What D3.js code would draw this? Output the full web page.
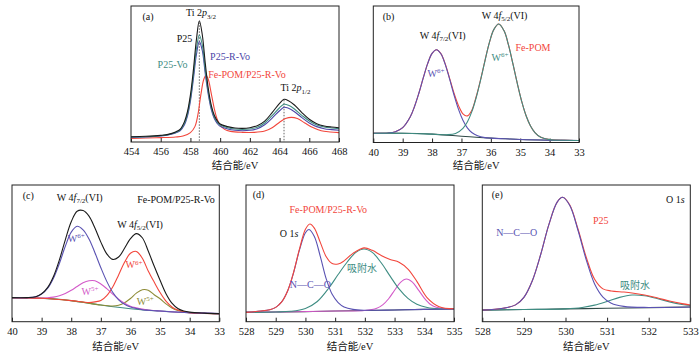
<!DOCTYPE html>
<html><head><meta charset="utf-8">
<script src="https://cdn.jsdelivr.net/npm/d3@7"></script>
<style>
body{margin:0;background:#fff;}
svg text{font-family:"Liberation Serif","Times New Roman","Noto Sans CJK SC",serif;}
</style></head><body>
<svg id="chart" width="700" height="355"></svg>
<script>
// ---------------- DATA (binding energy eV, intensity a.u. 0-100) ----------------
// Panel (a) Ti 2p
const ticksA = [454,456,458,460,462,464,466,468];
const aP25 = [[454,3.9],[455,4.2],[456,4.9],[456.5,5.6],[457,7.4],[457.3,9.3],[457.6,15],[457.8,22.3],[458,34.6],[458.2,53],[458.4,75],[458.6,89.2],[458.8,78.7],[459,57.8],[459.2,39.5],[459.4,27.2],[459.6,19.9],[459.8,15.7],[460,13.2],[460.5,11.3],[461,10.3],[461.5,10],[462,10.5],[462.5,12],[463,15.4],[463.5,21.6],[464,28.4],[464.3,31.4],[464.6,30.4],[465,27.2],[465.5,21.6],[466,16.7],[466.5,13.5],[467,11.8],[467.5,11],[468,10.5]];
const aP25Vo = [[454,3.7],[455,3.9],[456,4.7],[456.5,5.4],[457,6.9],[457.3,8.8],[457.6,13.7],[457.8,20.6],[458,32.1],[458.2,49.3],[458.4,68.1],[458.6,78.7],[458.8,71.3],[459,52.9],[459.2,37],[459.4,25.5],[459.6,18.6],[459.8,14.7],[460,12.5],[460.5,10.5],[461,9.6],[461.5,9.3],[462,9.6],[462.5,10.8],[463,14],[463.5,19.4],[464,25.2],[464.3,27.7],[464.6,27],[465,24.3],[465.5,19.6],[466,15.4],[466.5,12.5],[467,11],[467.5,10.3],[468,9.8]];
const aP25RVo = [[454,3.4],[455,3.7],[456,4.4],[456.5,5.1],[457,6.6],[457.3,8.3],[457.6,12.7],[457.8,19.1],[458,30.1],[458.2,46.3],[458.4,64],[458.6,73.8],[458.8,67.2],[459,50],[459.2,35],[459.4,24],[459.6,17.4],[459.8,13.7],[460,11.5],[460.5,9.6],[461,8.6],[461.5,8.3],[462,8.6],[462.5,9.8],[463,12.7],[463.5,17.6],[464,23],[464.3,25.5],[464.6,24.8],[465,22.3],[465.5,17.9],[466,14],[466.5,11.3],[467,9.8],[467.5,9.1],[468,8.6]];
const aFePOM = [[454,2.7],[455,2.9],[456,3.2],[457,3.7],[457.5,4.4],[458,6.9],[458.3,11.3],[458.5,19.9],[458.7,34.6],[458.9,46.1],[459.05,49],[459.2,46.1],[459.4,35.8],[459.6,24.8],[459.8,16.7],[460,12.3],[460.3,9.3],[460.7,7.8],[461.5,7.1],[462.3,7.1],[463,8.1],[463.5,10.5],[464,14.5],[464.4,17.2],[464.8,18.1],[465.2,17.2],[465.7,14],[466.2,10.8],[466.8,8.3],[467.4,7.4],[468,6.9]];
const aRefLines = [[458.6,88],[464.3,31]];

// Panel (b) W 4f, Fe-POM
const ticksB = [40,39,38,37,36,35,34,33];
const bBg = [[40,6.8],[39,6.8],[38.5,6.6],[38,6.1],[37.5,5.4],[37,4.6],[36.5,3.9],[36,3.2],[35.5,2.7],[35,2.2],[34,1.7],[33,1.5]];
const bW72 = [[40,6.8],[39.5,7.0],[39.25,7.9],[39,10.9],[38.75,18.5],[38.6,26.2],[38.45,36.1],[38.3,47.3],[38.15,57.8],[38,65.3],[37.85,68],[37.7,65],[37.55,57.1],[37.4,46.2],[37.25,34.6],[37.1,24.3],[36.95,16.3],[36.8,10.7],[36.65,7.3],[36.45,4.9],[36.2,3.6],[36,3.2],[35.5,2.7],[35,2.2],[34,1.7],[33,1.5]];
const bW52 = [[40,6.8],[39,6.8],[38,6.1],[37.5,5.7],[37.2,6.6],[36.95,10.4],[36.8,15],[36.65,22.4],[36.5,32.8],[36.35,45.7],[36.2,59.8],[36.05,73.1],[35.9,82.7],[35.73,86.8],[35.55,81.8],[35.4,71.5],[35.25,57.7],[35.1,43.3],[34.95,30.1],[34.8,19.6],[34.65,12.1],[34.5,7.3],[34.3,3.8],[34,2.1],[33.5,1.6],[33,1.5]];
const bFePOM = [[40,6.8],[39.5,7.0],[39.25,7.9],[39,10.9],[38.75,18.5],[38.6,26.2],[38.45,36.1],[38.3,47.3],[38.15,57.8],[38,65.3],[37.85,68],[37.7,65.1],[37.55,57.4],[37.4,46.8],[37.25,35.9],[37.1,27],[36.95,21],[36.8,19.5],[36.65,23.5],[36.5,33.5],[36.35,46],[36.2,60],[36.05,73.1],[35.9,82.7],[35.73,86.8],[35.55,81.8],[35.4,71.5],[35.25,57.7],[35.1,43.3],[34.95,30.1],[34.8,19.6],[34.65,12.1],[34.5,7.3],[34.3,3.8],[34,2.1],[33.5,1.6],[33,1.5]];

// Panel (c) W 4f, Fe-POM/P25-R-Vo
const ticksC = [40,39,38,37,36,35,34,33];
const cBg = [[40,17.6],[39.5,17.35],[39,17.1],[38.5,16.6],[38,15.4],[37.5,13.9],[37,12.2],[36.5,10.7],[36,9.5],[35.5,8.5],[35,7.8],[34.5,7.1],[34,6.6],[33.5,6.2],[33,5.9]];
const cW6a = [[40,17.6],[39.5,17.55],[39.2,18.2],[39,20.2],[38.8,24.3],[38.6,31.8],[38.4,42.6],[38.2,55.2],[38,65.5],[37.8,69.8],[37.6,67.2],[37.4,60.5],[37.2,50.5],[37,39.5],[36.8,29.5],[36.6,21.5],[36.4,16],[36.2,12.8],[36,10.8],[35.8,9.6],[35.6,8.8],[35.4,8.4],[35,7.8],[34.5,7.1],[34,6.6],[33,5.9]];
const cW5a = [[40,17.6],[39,17.3],[38.8,17.5],[38.6,18],[38.4,19],[38.2,20.7],[38,23],[37.8,25.8],[37.6,28.5],[37.4,29.9],[37.2,29.9],[37,27.6],[36.8,24.2],[36.6,20.2],[36.4,16.5],[36.2,13.5],[36,11.3],[35.8,10.1],[35.6,9.2],[35.4,8.6],[35,7.8],[34.5,7.1],[34,6.6],[33,5.9]];
const cW6b = [[40,17.6],[39,17.1],[38,15.4],[37.6,14.4],[37.4,14],[37.2,14.5],[37,15.5],[36.8,19.1],[36.6,25.4],[36.4,34.2],[36.2,43.5],[36,50.1],[35.8,51.4],[35.6,46.4],[35.4,37.1],[35.2,29],[35,21.3],[34.8,15],[34.6,10.8],[34.4,8.5],[34.2,7.4],[34,6.6],[33,5.9]];
const cW5b = [[40,17.6],[39,17.1],[38,15.4],[37,12.2],[36.6,11.5],[36.4,12.1],[36.2,13.9],[36,17],[35.8,20.9],[35.6,23.4],[35.4,23],[35.2,19.7],[35,16.8],[34.8,13],[34.6,10.1],[34.4,8.2],[34.2,7.2],[34,6.6],[33,5.9]];
const cEnv = [[40,17.6],[39.5,17.6],[39.2,18.2],[39,20.4],[38.8,24.9],[38.6,33.1],[38.4,45.2],[38.2,59.9],[38,73.1],[37.8,80.8],[37.6,81.3],[37.4,77.2],[37.2,68.5],[37,58.2],[36.8,49.6],[36.6,45.6],[36.4,47.3],[36.2,53.7],[36,60.7],[35.8,64.4],[35.6,61.4],[35.4,51.7],[35.2,40.7],[35,30.3],[34.8,20.5],[34.6,13.6],[34.4,9.7],[34.2,7.8],[34,7],[33.5,6.3],[33,5.9]];

// Panel (d) O 1s, Fe-POM/P25-R-Vo
const ticksD = [528,529,530,531,532,533,534,535];
const dBg = [[528,6.8],[529,7.1],[530,7.4],[531,7.8],[532,8.2],[533,8.6],[534,9.0],[535,9.3]];
const dNCO = [[528,6.8],[528.5,7.8],[528.8,8.8],[529,10.5],[529.2,14.5],[529.4,22.5],[529.6,35.7],[529.8,52.5],[530,65.1],[530.12,67.4],[530.3,62.3],[530.5,47.8],[530.7,31.3],[530.9,20],[531.1,14],[531.3,10.8],[531.6,9],[532,8.4],[533,8.6],[534,9.0],[535,9.3]];
const dH2O = [[528,6.8],[529,7.1],[529.5,7.6],[530,9.7],[530.4,14.8],[530.8,25],[531.1,34.5],[531.4,43.5],[531.7,50.7],[531.97,53.2],[532.25,50.7],[532.55,43.1],[532.85,33.3],[533.15,24],[533.45,17.1],[533.75,12.8],[534.1,10.4],[534.5,9.4],[535,9.3]];
const dOther = [[528,6.8],[531,7.8],[532,8.2],[532.4,9.8],[532.6,12.3],[532.8,16.8],[533,23],[533.2,28.8],[533.4,31.2],[533.6,28.9],[533.8,23.3],[534,17.3],[534.2,12.8],[534.4,10.5],[534.7,9.4],[535,9.3]];
const dEnv = [[528,6.8],[528.5,7.8],[528.8,8.8],[529,10.5],[529.2,14.5],[529.4,22.5],[529.6,36],[529.8,53.3],[530,67.6],[530.15,71.5],[530.3,68.5],[530.5,58],[530.7,47.5],[530.9,42.5],[531.1,42.2],[531.3,44.5],[531.6,50],[531.97,54],[532.25,52.2],[532.55,48.5],[532.85,45.5],[533.15,43.5],[533.45,38.5],[533.75,29.5],[534.1,17.5],[534.5,11],[535,9.5]];

// Panel (e) O 1s, P25
const ticksE = [528,529,530,531,532,533];
const eBg = [[528,8.5],[529,8.9],[530,9.4],[531,9.8],[532,10.3],[533,10.7]];
const eNCO = [[528,8.5],[528.5,9.8],[528.8,12.3],[529,17.8],[529.2,29.8],[529.4,48.8],[529.6,71],[529.8,87.5],[529.93,91],[530.1,85.2],[530.3,66.9],[530.5,45.1],[530.7,27.6],[530.9,18],[531.1,13.5],[531.4,11.2],[532,10.4],[533,10.7]];
const eH2O = [[528,8.5],[529,8.9],[530,9.4],[530.4,10.4],[530.7,12.1],[531,14.8],[531.3,17.8],[531.6,19.5],[531.9,19],[532.2,17],[532.5,14.5],[532.8,12.6],[533,11.8]];
const eEnv = [[528,8.5],[528.5,9.8],[528.8,12.3],[529,17.8],[529.2,29.8],[529.4,48.8],[529.6,71],[529.8,87.5],[529.93,91],[530.1,85.5],[530.3,67.8],[530.5,47],[530.7,31],[530.9,24],[531.1,22.5],[531.4,21.7],[531.6,21],[531.9,19.5],[532.2,17.5],[532.5,15.1],[532.8,13.2],[533,12.2]];

// ---------------- STYLE ----------------
const COL = {black:'#1b1b1b', teal:'#3f8d83', blue:'#4c46a8', purple:'#5a52b2', red:'#f2463c', magenta:'#d35ac9', olive:'#8d8b36', bg:'#2f4846', grey:'#666'};
const FONT = '"Liberation Serif","Times New Roman","Noto Sans CJK SC",serif';
const svg = d3.select('#chart');

function rich(g, x, y, parts, color, size, anchor) {
  size = size || 10;
  const t = g.append('text').attr('x', x).attr('y', y).attr('fill', color)
    .attr('font-size', size).attr('text-anchor', anchor || 'middle');
  let shift = 0;
  parts.forEach(pt => {
    const s = Array.isArray(pt) ? pt[0] : pt;
    const st = Array.isArray(pt) ? pt[1] : '';
    const ts = t.append('tspan').text(s);
    let target = 0;
    if (st === 'sub') { target = size * 0.28; ts.attr('font-size', size * 0.7); }
    else if (st === 'sup') { target = -size * 0.38; ts.attr('font-size', size * 0.7); }
    if (st === 'i') ts.attr('font-style', 'italic');
    ts.attr('dy', target - shift);
    shift = target;
  });
}

let clipId = 0;
function drawPanel(p) {
  const x = d3.scaleLinear().domain(p.domain).range([p.left, p.right]);
  const y = d3.scaleLinear().domain([0, 100]).range([p.bottom, p.top]);
  const g = svg.append('g');
  const cid = 'clip' + (clipId++);
  g.append('clipPath').attr('id', cid).append('rect')
    .attr('x', p.left).attr('y', p.top).attr('width', p.right - p.left).attr('height', p.bottom - p.top);

  const axis = d3.axisBottom(x).tickValues(p.ticks).tickSizeInner(-4).tickSizeOuter(0)
    .tickPadding(6).tickFormat(d3.format('d'));
  const axg = g.append('g').attr('transform', `translate(0,${p.bottom})`).call(axis);
  axg.select('.domain').remove();
  axg.selectAll('line').attr('stroke', '#222');
  axg.selectAll('text').attr('font-size', 10.5).attr('font-family', FONT).attr('fill', '#111');

  const line = d3.line().x(d => x(d[0])).y(d => y(d[1])).curve(d3.curveCatmullRom.alpha(0.5));
  const lg = g.append('g').attr('clip-path', `url(#${cid})`);
  if (p.refs) {
    p.refs.forEach(r => {
      lg.append('line').attr('x1', x(r[0])).attr('x2', x(r[0])).attr('y1', y(r[1])).attr('y2', y(0))
        .attr('stroke', '#555').attr('stroke-width', 0.9).attr('stroke-dasharray', '1.5,1.5');
    });
  }
  p.series.forEach(s => {
    lg.append('path').attr('d', line(s.data)).attr('fill', 'none')
      .attr('stroke', s.color).attr('stroke-width', s.w || 1.1).attr('stroke-linejoin', 'round');
  });

  g.append('rect').attr('x', p.left).attr('y', p.top).attr('width', p.right - p.left)
    .attr('height', p.bottom - p.top).attr('fill', 'none').attr('stroke', '#222').attr('stroke-width', 1);

  g.append('text').attr('x', (p.left + p.right) / 2).attr('y', p.titleY).attr('text-anchor', 'middle')
    .attr('font-size', 10.5).attr('fill', '#111').text('结合能/eV');

  p.labels.forEach(l => rich(g, l.x, l.y, l.parts, l.color, l.size, l.anchor));
}

// (a)
drawPanel({
  left: 131, right: 339, top: 6, bottom: 142, domain: [454, 468], ticks: ticksA, titleY: 169,
  refs: aRefLines,
  series: [
    {data: aFePOM, color: COL.red},
    {data: aP25RVo, color: COL.blue},
    {data: aP25Vo, color: COL.teal},
    {data: aP25, color: COL.black}
  ],
  labels: [
    {x: 142.5, y: 19.5, parts: ['(a)'], color: '#111', anchor: 'start'},
    {x: 201, y: 16, parts: ['Ti 2', ['p', 'i'], ['3/2', 'sub']], color: '#111'},
    {x: 184.5, y: 42, parts: ['P25'], color: '#111'},
    {x: 172.5, y: 67.5, parts: ['P25-Vo'], color: COL.teal},
    {x: 230, y: 59.5, parts: ['P25-R-Vo'], color: COL.blue},
    {x: 247, y: 77.5, parts: ['Fe-POM/P25-R-Vo'], color: COL.red},
    {x: 295.5, y: 91, parts: ['Ti 2', ['p', 'i'], ['1/2', 'sub']], color: '#111'}
  ]
});

// (b)
drawPanel({
  left: 373.3, right: 579, top: 6, bottom: 142.5, domain: [40, 33], ticks: ticksB, titleY: 169,
  series: [
    {data: bBg, color: COL.bg},
    {data: bFePOM, color: COL.red},
    {data: bW72, color: COL.purple},
    {data: bW52, color: COL.teal}
  ],
  labels: [
    {x: 382.7, y: 20, parts: ['(b)'], color: '#111', anchor: 'start'},
    {x: 504.5, y: 18.5, parts: ['W 4', ['f', 'i'], ['5/2', 'sub'], '(VI)'], color: '#111'},
    {x: 442.7, y: 38.5, parts: ['W 4', ['f', 'i'], ['7/2', 'sub'], '(VI)'], color: '#111'},
    {x: 533, y: 51, parts: ['Fe-POM'], color: COL.red},
    {x: 500, y: 61, parts: ['W', ['6+', 'sup']], color: COL.teal},
    {x: 436, y: 77, parts: ['W', ['6+', 'sup']], color: COL.purple}
  ]
});

// (c)
drawPanel({
  left: 12, right: 219.3, top: 185, bottom: 321.7, domain: [40, 33], ticks: ticksC, titleY: 350,
  series: [
    {data: cBg, color: COL.teal},
    {data: cW5b, color: COL.olive},
    {data: cW5a, color: COL.magenta},
    {data: cW6b, color: COL.red},
    {data: cW6a, color: COL.purple},
    {data: cEnv, color: COL.black}
  ],
  labels: [
    {x: 22.7, y: 198.5, parts: ['(c)'], color: '#111', anchor: 'start'},
    {x: 79.7, y: 200.5, parts: ['W 4', ['f', 'i'], ['7/2', 'sub'], '(VI)'], color: '#111'},
    {x: 176, y: 203, parts: ['Fe-POM/P25-R-Vo'], color: '#111'},
    {x: 140, y: 227.5, parts: ['W 4', ['f', 'i'], ['5/2', 'sub'], '(VI)'], color: '#111'},
    {x: 76.3, y: 241.7, parts: ['W', ['6+', 'sup']], color: COL.purple},
    {x: 134, y: 268.3, parts: ['W', ['6+', 'sup']], color: COL.red},
    {x: 90, y: 295, parts: ['W', ['5+', 'sup']], color: COL.magenta},
    {x: 145.3, y: 305, parts: ['W', ['5+', 'sup']], color: COL.olive}
  ]
});

// (d)
drawPanel({
  left: 246, right: 454, top: 185, bottom: 321.7, domain: [528, 535], ticks: ticksD, titleY: 350,
  series: [
    {data: dBg, color: COL.bg},
    {data: dOther, color: COL.magenta},
    {data: dH2O, color: COL.teal},
    {data: dNCO, color: COL.purple},
    {data: dEnv, color: COL.red}
  ],
  labels: [
    {x: 252.7, y: 197.5, parts: ['(d)'], color: '#111', anchor: 'start'},
    {x: 328.3, y: 212.5, parts: ['Fe-POM/P25-R-Vo'], color: COL.red},
    {x: 289, y: 236.5, parts: ['O 1', ['s', 'i']], color: '#111'},
    {x: 362, y: 272, parts: ['吸附水'], color: COL.teal},
    {x: 310.3, y: 287.5, parts: ['N—C—O'], color: COL.purple}
  ]
});

// (e)
drawPanel({
  left: 482.3, right: 690.3, top: 185, bottom: 321.7, domain: [528, 533], ticks: ticksE, titleY: 350,
  series: [
    {data: eBg, color: COL.bg},
    {data: eH2O, color: COL.teal},
    {data: eEnv, color: COL.red},
    {data: eNCO, color: COL.purple}
  ],
  labels: [
    {x: 491.7, y: 197.5, parts: ['(e)'], color: '#111', anchor: 'start'},
    {x: 675.3, y: 203, parts: ['O 1', ['s', 'i']], color: '#111'},
    {x: 600.8, y: 224, parts: ['P25'], color: COL.red},
    {x: 516.7, y: 235.5, parts: ['N—C—O'], color: COL.purple},
    {x: 635, y: 289, parts: ['吸附水'], color: COL.teal}
  ]
});
</script>
</body></html>
